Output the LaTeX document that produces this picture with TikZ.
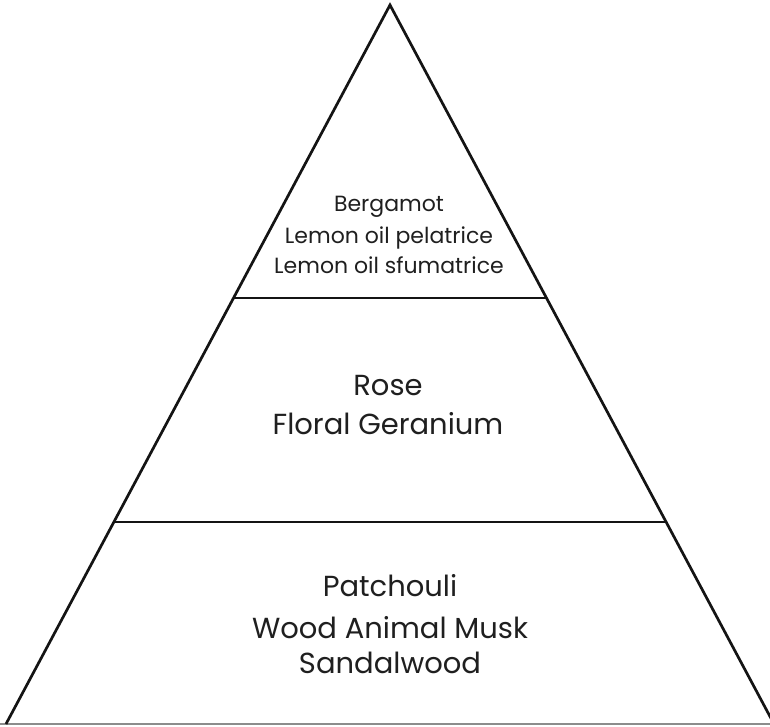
\documentclass[tikz,border=0pt]{standalone}
\usepackage{fontspec}
\setmainfont{Poppins}
\usetikzlibrary{calc}
\begin{document}
\begin{tikzpicture}[x=1pt,y=-1pt,
  edge/.style={line width=2.7pt,color=black!92},
  baseedge/.style={line width=2pt,color=black!45},
  big/.style={anchor=base,inner sep=0pt,font=\fontsize{29}{34}\selectfont,text=black!88},
  small/.style={anchor=base,inner sep=0pt,font=\fontsize{22}{26}\selectfont,text=black!88}]
\useasboundingbox (0,0) rectangle (770,726);
\clip (0,0) rectangle (770,726);
\coordinate (apex) at (390,5);
\coordinate (bl) at (6,724);
\coordinate (br) at (774,724);
\coordinate (l1) at ($(apex)!0.4075!(bl)$);
\coordinate (r1) at ($(apex)!0.4075!(br)$);
\coordinate (l2) at ($(apex)!0.7191!(bl)$);
\coordinate (r2) at ($(apex)!0.7191!(br)$);
\draw[baseedge] (0,724) -- (770,724);
\draw[edge,line join=miter] (bl) -- (apex) -- (br);
\draw[edge] (l1) -- (r1);
\draw[edge] (l2) -- (r2);
\node[small] (t1) at (389,211.5) {Bergamot};
\node[small] (t2) at (389,243) {Lemon oil pelatrice};
\node[small] (t3) at (389,273.5) {Lemon oil sfumatrice};
\node[big] (m1) at (388,395) {Rose};
\node[big] (m2) at (388,434) {Floral Geranium};
\node[big] (b1) at (390,596.7) {Patchouli};
\node[big] (b2) at (390,638) {Wood Animal Musk};
\node[big] (b3) at (390,673.3) {Sandalwood};
\end{tikzpicture}
\end{document}
